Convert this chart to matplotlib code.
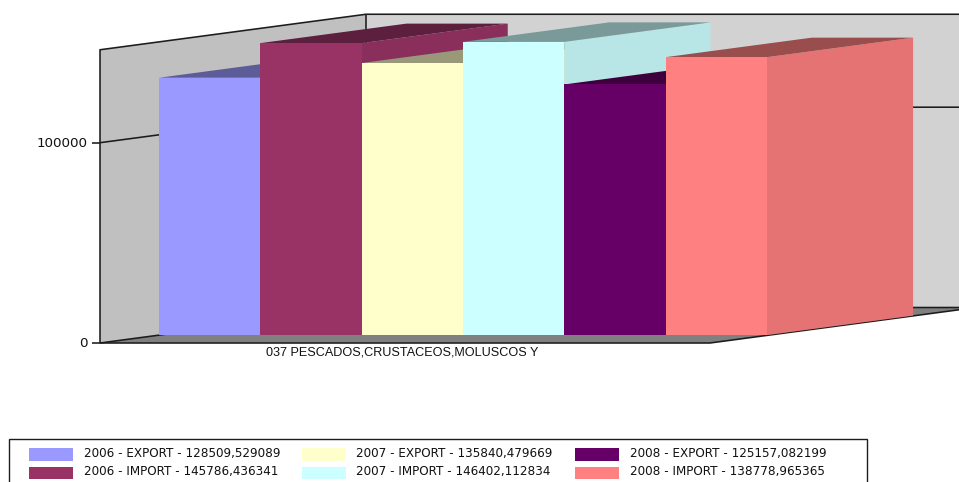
import matplotlib
matplotlib.use("Agg")
import matplotlib.pyplot as plt
from matplotlib.patches import Polygon, Rectangle

# Series shown in the chart
years = ["2006", "2006", "2007", "2007", "2008", "2008"]
flows = ["EXPORT", "IMPORT", "EXPORT", "IMPORT", "EXPORT", "IMPORT"]
values = [128509.529089, 145786.436341, 135840.479669,
          146402.112834, 125157.082199, 138778.965365]
colors = ["#9999FF", "#993366", "#FFFFCC", "#CCFFFF", "#660066", "#FF8080"]
category = "037 PESCADOS,CRUSTACEOS,MOLUSCOS Y"
y_ticks = [0, 100000]
y_max = 146402.112834

W, H = 959, 482
PX_PER_BAR = 101.33
PX_PER_VALUE = 0.002003
PLOT_LEFT_PX = 100
FLOOR_PX = 343

fig = plt.figure(figsize=(W / 100, H / 100), dpi=100, facecolor="white")
ax = fig.add_axes([0, 0, 1, 1])
ax.set_xlim(-PLOT_LEFT_PX / PX_PER_BAR, (W - PLOT_LEFT_PX) / PX_PER_BAR)
ax.set_ylim(-(H - FLOOR_PX) / PX_PER_VALUE, FLOOR_PX / PX_PER_VALUE)
ax.axis("off")

# Oblique projection: d runs from the front of the floor (0) to the back wall (1)
DEPTH_X = 266 / PX_PER_BAR
DEPTH_Y = 35.5 / PX_PER_VALUE
PLOT_LEFT = 0.0
PLOT_RIGHT = 610 / PX_PER_BAR
BAR_FRONT = 0.2218
BAR_BACK = 0.771


def pt(x, v, d=0.0):
    return (x + d * DEPTH_X, v + d * DEPTH_Y)


def face(points, color, z):
    ax.add_patch(Polygon(points, closed=True, facecolor=color, edgecolor="none", zorder=z))


def shade(hex_color, k):
    r, g, b = matplotlib.colors.to_rgb(hex_color)
    return (r * k, g * k, b * k)


def line(points, z=2, lw=1.15):
    xs, ys = zip(*points)
    ax.plot(xs, ys, color="#1c1c1c", lw=lw, zorder=z, solid_capstyle="butt")


# Walls and floor
face([pt(PLOT_LEFT, 0, 1), pt(PLOT_RIGHT, 0, 1), pt(PLOT_RIGHT, y_max, 1), pt(PLOT_LEFT, y_max, 1)],
     "#D2D2D2", 1)
face([pt(PLOT_LEFT, 0), pt(PLOT_LEFT, 0, 1), pt(PLOT_LEFT, y_max, 1), pt(PLOT_LEFT, y_max)],
     "#C0C0C0", 1)
face([pt(PLOT_LEFT, 0), pt(PLOT_RIGHT, 0), pt(PLOT_RIGHT, 0, 1), pt(PLOT_LEFT, 0, 1)],
     "#808080", 1)

# Gridlines and frame
for tick in y_ticks:
    line([pt(PLOT_LEFT, tick), pt(PLOT_LEFT, tick, 1), pt(PLOT_RIGHT, tick, 1)])
    line([(PLOT_LEFT - 8 / PX_PER_BAR, tick), pt(PLOT_LEFT, tick)])
    ax.text(PLOT_LEFT - 12 / PX_PER_BAR, tick - 0.7 / PX_PER_VALUE, str(tick), ha="right", va="center",
            fontsize=9.7, family="DejaVu Sans", color="#111111")
line([pt(PLOT_LEFT, 0), pt(PLOT_LEFT, y_max), pt(PLOT_LEFT, y_max, 1), pt(PLOT_RIGHT, y_max, 1)])
line([pt(PLOT_LEFT, 0, 1), pt(PLOT_LEFT, y_max, 1)])
line([pt(PLOT_LEFT, 0), pt(PLOT_RIGHT, 0), pt(PLOT_RIGHT, 0, 1)])

# Bars, left to right so each front hides the previous side face
for i, (value, color) in enumerate(zip(values, colors)):
    z = 3 + i
    face([pt(i + 1, 0, BAR_FRONT), pt(i + 1, 0, BAR_BACK),
          pt(i + 1, value, BAR_BACK), pt(i + 1, value, BAR_FRONT)], shade(color, 0.9), z)
    face([pt(i, value, BAR_FRONT), pt(i + 1, value, BAR_FRONT),
          pt(i + 1, value, BAR_BACK), pt(i, value, BAR_BACK)], shade(color, 0.6), z)
    face([pt(i, 0, BAR_FRONT), pt(i + 1, 0, BAR_FRONT),
          pt(i + 1, value, BAR_FRONT), pt(i, value, BAR_FRONT)], color, z)

# Category label under the floor
ax.text((PLOT_LEFT + PLOT_RIGHT) / 2 - 3 / PX_PER_BAR, -9.5 / PX_PER_VALUE, category,
        ha="center", va="center", fontsize=9.1, family="Liberation Sans",
        color="#111111", zorder=20)

# Legend box, drawn in pixel coordinates; it runs off the lower edge
lax = fig.add_axes([0, 0, 1, 1])
lax.set_xlim(0, W)
lax.set_ylim(H, 0)
lax.axis("off")
lax.patch.set_alpha(0)
lax.add_patch(Rectangle((8.5, 438.5), 858, 60, facecolor="white", edgecolor="#1c1c1c", lw=1.0))
col_x = [29, 301.5, 574.5]
row_y = [448, 466.5]
for i, (year, flow, value, color) in enumerate(zip(years, flows, values, colors)):
    x, y = col_x[i // 2], row_y[i % 2]
    lax.add_patch(Rectangle((x, y), 44, 12.5, facecolor=color, edgecolor="none"))
    label = f"{year} - {flow} - {value:.6f}".replace(".", ",")
    lax.text(x + 55, y + 5.5, label, ha="left", va="center", fontsize=8.65,
             family="DejaVu Sans", color="#111111")

fig.savefig("out.png", dpi=100, facecolor="white")
